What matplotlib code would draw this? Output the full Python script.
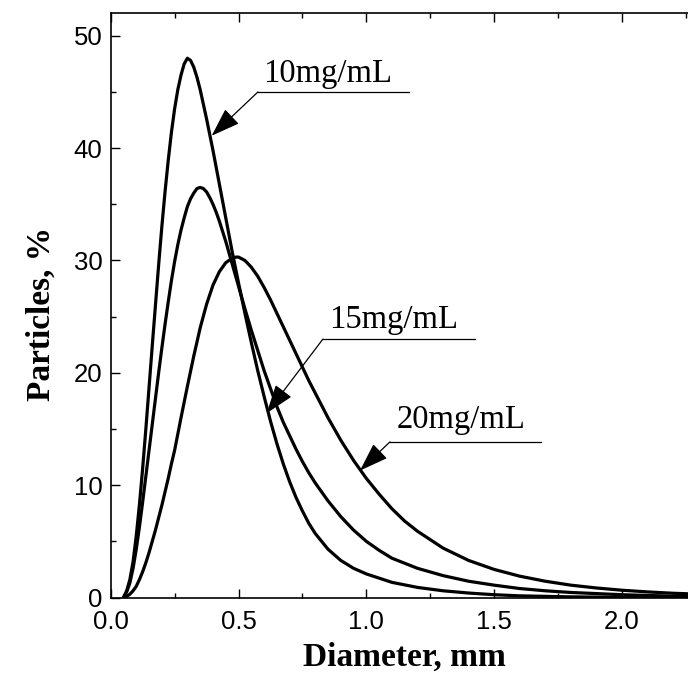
import matplotlib
matplotlib.use("Agg")
import matplotlib.pyplot as plt
from matplotlib.ticker import MultipleLocator

# ---- data ----
x10 = [0.05, 0.0625, 0.075, 0.0875, 0.10, 0.1125, 0.125, 0.1375, 0.15, 0.1625, 0.175, 0.1875,
       0.20, 0.2125, 0.225, 0.2375, 0.25, 0.2625, 0.275, 0.2875, 0.30, 0.3125, 0.325, 0.3375,
       0.35, 0.3625, 0.375, 0.3875, 0.40, 0.4125, 0.425, 0.4375, 0.45, 0.4625, 0.475, 0.4875,
       0.50, 0.525, 0.55, 0.575, 0.60, 0.625, 0.65, 0.675, 0.70, 0.725, 0.75, 0.775, 0.80,
       0.85, 0.90, 0.95, 1.0, 1.1, 1.2, 1.3, 1.4, 1.5, 1.6, 1.8, 2.0, 2.2, 2.5]
y10 = [0.0, 0.6, 1.6, 3.2, 5.5, 8.3, 11.5, 15.0, 18.7, 22.4, 26.0, 29.6,
       33.0, 36.1, 38.9, 41.4, 43.5, 45.2, 46.5, 47.5, 48.0, 47.8, 47.2, 46.3,
       45.2, 43.9, 42.6, 41.2, 39.8, 38.3, 36.8, 35.3, 33.8, 32.3, 30.8, 29.4,
       28.0, 25.3, 22.7, 20.2, 17.9, 15.7, 13.7, 11.9, 10.3, 8.9, 7.7, 6.6, 5.7,
       4.3, 3.3, 2.6, 2.1, 1.35, 0.9, 0.6, 0.4, 0.25, 0.15, 0.06, 0.02, 0.0, 0.0]

x15 = [0.05, 0.0625, 0.075, 0.0875, 0.10, 0.1125, 0.125, 0.1375, 0.15, 0.1625, 0.175, 0.1875,
       0.20, 0.2125, 0.225, 0.2375, 0.25, 0.2625, 0.275, 0.2875, 0.30, 0.3125, 0.325, 0.3375,
       0.35, 0.3625, 0.375, 0.3875, 0.40, 0.4125, 0.425, 0.4375, 0.45, 0.4625, 0.475, 0.4875,
       0.50, 0.525, 0.55, 0.575, 0.60, 0.625, 0.65, 0.675, 0.70, 0.725, 0.75, 0.775, 0.80,
       0.825, 0.85, 0.875, 0.90, 0.95, 1.0, 1.05, 1.1, 1.2, 1.3, 1.4, 1.5, 1.6, 1.7, 1.8,
       2.0, 2.2, 2.5]
y15 = [0.0, 0.5, 1.3, 2.6, 4.3, 6.3, 8.5, 10.8, 13.1, 15.4, 17.7, 20.0,
       22.2, 24.3, 26.3, 28.2, 29.9, 31.4, 32.7, 33.8, 34.8, 35.5, 36.0, 36.4,
       36.5, 36.4, 36.1, 35.6, 35.0, 34.3, 33.5, 32.6, 31.7, 30.7, 29.7, 28.7,
       27.7, 25.7, 23.8, 22.0, 20.2, 18.6, 17.0, 15.6, 14.4, 13.2, 12.1, 11.1, 10.2,
       9.4, 8.6, 7.9, 7.2, 6.0, 5.0, 4.2, 3.5, 2.6, 1.95, 1.45, 1.1, 0.8, 0.6, 0.45,
       0.25, 0.12, 0.05]

x20 = [0.05, 0.0625, 0.075, 0.0875, 0.10, 0.1125, 0.125, 0.1375, 0.15, 0.1625, 0.175, 0.1875,
       0.20, 0.2125, 0.225, 0.2375, 0.25, 0.275, 0.30, 0.325, 0.35, 0.375, 0.40, 0.425, 0.45,
       0.475, 0.49, 0.50, 0.525, 0.55, 0.575, 0.60, 0.625, 0.65, 0.675, 0.70, 0.725, 0.75,
       0.775, 0.80, 0.825, 0.85, 0.875, 0.90, 0.925, 0.95, 0.975, 1.0, 1.05, 1.1, 1.15, 1.2,
       1.3, 1.4, 1.5, 1.6, 1.7, 1.8, 1.9, 2.0, 2.1, 2.2, 2.3, 2.5]
y20 = [0.0, 0.1, 0.3, 0.6, 1.0, 1.6, 2.3, 3.1, 4.0, 5.0, 6.0, 7.1,
       8.2, 9.4, 10.6, 11.9, 13.1, 16.0, 18.8, 21.5, 24.0, 26.1, 27.8, 29.0, 29.8,
       30.2, 30.3, 30.3, 30.0, 29.4, 28.6, 27.6, 26.5, 25.3, 24.1, 22.9, 21.7, 20.5,
       19.3, 18.2, 17.1, 16.0, 15.0, 14.0, 13.1, 12.2, 11.4, 10.6, 9.2, 7.9, 6.8, 5.9,
       4.4, 3.3, 2.5, 1.9, 1.45, 1.1, 0.85, 0.65, 0.5, 0.38, 0.3, 0.18]

labels = ["10mg/mL", "15mg/mL", "20mg/mL"]
# annotation geometry: (text x, text baseline y, underline x0, x1, underline y, arrow tip x, tip y)
ann = [
    (0.596, 45.9, 0.576, 1.167, 45.0, 0.395, 41.1),
    (0.854, 24.0, 0.830, 1.425, 23.0, 0.610, 16.4),
    (1.120, 15.1, 1.092, 1.683, 13.85, 0.975, 11.3),
]

xticks = [0.0, 0.5, 1.0, 1.5, 2.0]
yticks = [0, 10, 20, 30, 40, 50]

fig = plt.figure(figsize=(6.88, 6.88), dpi=100)
ax = fig.add_axes([0.1609, 0.1315, 0.929, 0.8492])

for xs, ys in [(x10, y10), (x15, y15), (x20, y20)]:
    ax.plot(xs, ys, color="black", lw=2.3, solid_joinstyle="round", solid_capstyle="round")

for lab, (tx, ty, ux0, ux1, uy, ax_, ay_) in zip(labels, ann):
    ax.text(tx, ty, lab, fontsize=23.5, family="Liberation Serif", va="baseline", ha="left")
    ax.plot([ux0, ux1], [uy, uy], color="black", lw=0.9)
    ax.annotate("", xy=(ax_, ay_), xytext=(ux0, uy),
                arrowprops=dict(arrowstyle="-|>,head_length=1.3,head_width=0.45",
                                color="black", lw=0.9, shrinkA=0, shrinkB=0,
                                mutation_scale=14))

ax.set_xlim(0, 2.5)
ax.set_ylim(0, 52)
ax.set_xticks(xticks)
ax.set_xticklabels([f"{v:.1f}" for v in xticks])
ax.set_yticks(yticks)
ax.xaxis.set_minor_locator(MultipleLocator(0.25))
ax.yaxis.set_minor_locator(MultipleLocator(5))
ax.tick_params(which="both", direction="in", top=True, right=True, width=1.0)
ax.tick_params(which="major", length=6.5, labelsize=18.5)
ax.tick_params(axis="x", which="major", pad=9)
ax.tick_params(axis="y", which="major", pad=6)
ax.tick_params(which="minor", length=3.5)
for lbl in ax.get_xticklabels() + ax.get_yticklabels():
    lbl.set_family("Liberation Sans")
for s in ax.spines.values():
    s.set_linewidth(1.2)

ax.set_xlabel("Diameter, mm", fontsize=24, family="Liberation Serif", fontweight="bold")
ax.xaxis.set_label_coords(0.459, -0.075)
ax.set_ylabel("Particles, %", fontsize=24, family="Liberation Serif", fontweight="bold")
ax.yaxis.set_label_coords(-0.085, 0.485)

fig.savefig("out.png", dpi=100)
